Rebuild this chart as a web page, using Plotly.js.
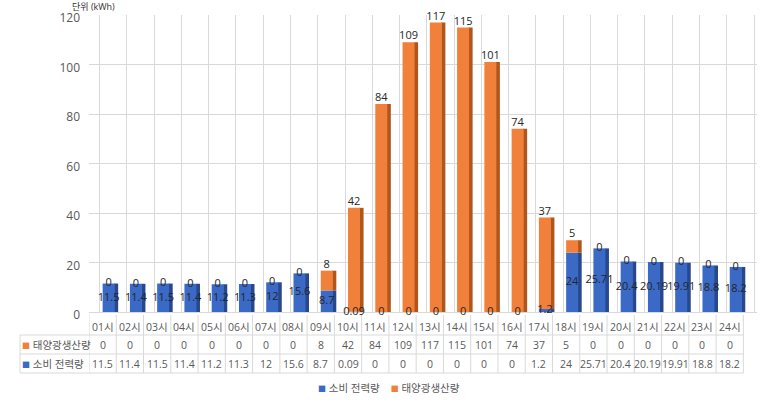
<!DOCTYPE html>
<html>
<head>
<meta charset="utf-8">
<script src="https://cdn.plot.ly/plotly-3.0.1.min.js"></script>
<style>
  html, body { margin: 0; padding: 0; background: #fff; }
  #chart { width: 765px; height: 400px; }
</style>
</head>
<body>
<div id="chart"></div>
<script>
// hourly data ----------------------------------------------------------------
const hours = ['01시', '02시', '03시', '04시', '05시', '06시', '07시', '08시', '09시', '10시', '11시', '12시',
               '13시', '14시', '15시', '16시', '17시', '18시', '19시', '20시', '21시', '22시', '23시', '24시'];
const usage = [11.5, 11.4, 11.5, 11.4, 11.2, 11.3, 12, 15.6, 8.7, 0.09, 0, 0,
               0, 0, 0, 0, 1.2, 24, 25.71, 20.4, 20.19, 19.91, 18.8, 18.2];
const solar = [0, 0, 0, 0, 0, 0, 0, 0, 8, 42, 84, 109,
               117, 115, 101, 74, 37, 5, 0, 0, 0, 0, 0, 0];
const usageName = '소비 전력량';
const solarName = '태양광생산량';

// layout helpers -------------------------------------------------------------
const FONT = '"Open Sans", "Noto Sans CJK KR", sans-serif';
const GREY = '#595959', GRID = '#D9D9D9';
const M = { l: 89, r: 8, t: 15, b: 88 };
const W = 765 - M.l - M.r, H = 400 - M.t - M.b;
const py = p => (M.t + H - p) / H;       // pixel row -> paper y
const px = p => (p - M.l) / W;           // pixel column -> paper x
const idx = hours.map((_, i) => i);
const shift = 0.22, front = 0.44, side = 0.15;   // fake 3-D bar look

const col = { blue: '#3A69C6', blueSide: '#27488F', orange: '#F0803A', orangeSide: '#B0561C' };
const total = usage.map((u, i) => u + solar[i]);

const traces = [
    { type: 'bar', x: idx, y: usage, base: 0, offset: shift + front / 2 - 0.02, width: side,
      marker: { color: col.blueSide }, hoverinfo: 'skip' },
    { type: 'bar', x: idx, y: solar, base: usage, offset: shift + front / 2 - 0.02, width: side,
      marker: { color: col.orangeSide }, hoverinfo: 'skip' },
    { type: 'bar', name: usageName, x: idx, y: usage, base: 0, offset: shift - front / 2, width: front,
      marker: { color: col.blue } },
    { type: 'bar', name: solarName, x: idx, y: solar, base: usage, offset: shift - front / 2, width: front,
      marker: { color: col.orange } },
    { type: 'scatter', mode: 'text', x: idx.map(i => i + shift), y: usage.map(u => u / 2),
      text: usage.map(String), textposition: 'middle center', cliponaxis: false,
      textfont: { family: FONT, size: 11, color: '#262626' }, hoverinfo: 'skip' },
    { type: 'scatter', mode: 'text', x: idx.map(i => i + shift), y: total,
      text: solar.map(String), textposition: solar.map(s => s > 0 ? 'top center' : 'middle center'),
      cliponaxis: false,
      textfont: { family: FONT, size: 11, color: '#262626' }, hoverinfo: 'skip' },
];

// data table under the plot + legend ----------------------------------------
const rows = { head: 327, solar: 345, usage: 364, legend: 388 };
const lines = { top: 315, a: 335, b: 354, c: 373, left: 20 };
const cell = { family: FONT, size: 10.5, color: GREY };
const label = { family: FONT, size: 10.5, color: GREY };
const sq = c => `<span style="color:${c};font-size:8px">■</span>`;
const note = (text, x, y, extra) => Object.assign({ text, x, y, xref: 'x', yref: 'paper',
    yanchor: 'middle', showarrow: false, font: cell }, extra || {});

const annotations = [
    note('단위 (kWh)', px(70), py(6), { xref: 'paper', font: { family: FONT, size: 9, color: '#333' } }),
];
hours.forEach((h, i) => {
    annotations.push(note(h, i, py(rows.head)));
    annotations.push(note(String(solar[i]), i, py(rows.solar)));
    annotations.push(note(String(usage[i]), i, py(rows.usage)));
});
annotations.push(note(`${sq(col.orange)} ${solarName}`, px(20), py(rows.solar),
    { xref: 'paper', xanchor: 'left', font: label }));
annotations.push(note(`${sq(col.blue)} ${usageName}`, px(20), py(rows.usage),
    { xref: 'paper', xanchor: 'left', font: label }));
annotations.push(note(`${sq(col.blue)} ${usageName}    ${sq(col.orange)} ${solarName}`, px(389), py(rows.legend),
    { xref: 'paper', xanchor: 'center', font: label }));

const shapes = [];
const ln = { color: GRID, width: 1 };
idx.concat([hours.length]).forEach(k => {
    shapes.push({ type: 'line', xref: 'x', yref: 'paper', x0: k - 0.5, x1: k - 0.5,
        y0: py(lines.top), y1: py(lines.c), line: ln });
});
shapes.push({ type: 'line', xref: 'paper', yref: 'paper', x0: px(lines.left), x1: px(lines.left),
    y0: py(lines.a), y1: py(lines.c), line: ln });
[lines.a, lines.b, lines.c].forEach(y => {
    shapes.push({ type: 'line', xref: 'paper', yref: 'paper', x0: px(lines.left), x1: px(M.l + hours.length * W / 24.5),
        y0: py(y), y1: py(y), line: ln });
});

const layout = {
    width: 765, height: 400,
    margin: M,
    paper_bgcolor: '#fff', plot_bgcolor: '#fff',
    barmode: 'overlay',
    showlegend: false,
    font: { family: FONT, color: GREY, size: 12 },
    xaxis: {
        range: [-0.5, 24], tickvals: idx.concat([hours.length]).map(k => k - 0.5 + 0.39),
        showticklabels: false, ticks: '', showgrid: true, gridcolor: GRID, zeroline: false, fixedrange: true,
    },
    yaxis: {
        range: [0, 120], dtick: 20, showgrid: true, gridcolor: GRID, zeroline: true, zerolinecolor: GRID,
        ticks: '', tickfont: { family: FONT, size: 12, color: GREY }, ticklabelstandoff: 8,
        ticklabelshift: 3, fixedrange: true,
    },
    annotations, shapes,
};

Plotly.newPlot('chart', traces, layout, { displayModeBar: false, staticPlot: true });
</script>
</body>
</html>
